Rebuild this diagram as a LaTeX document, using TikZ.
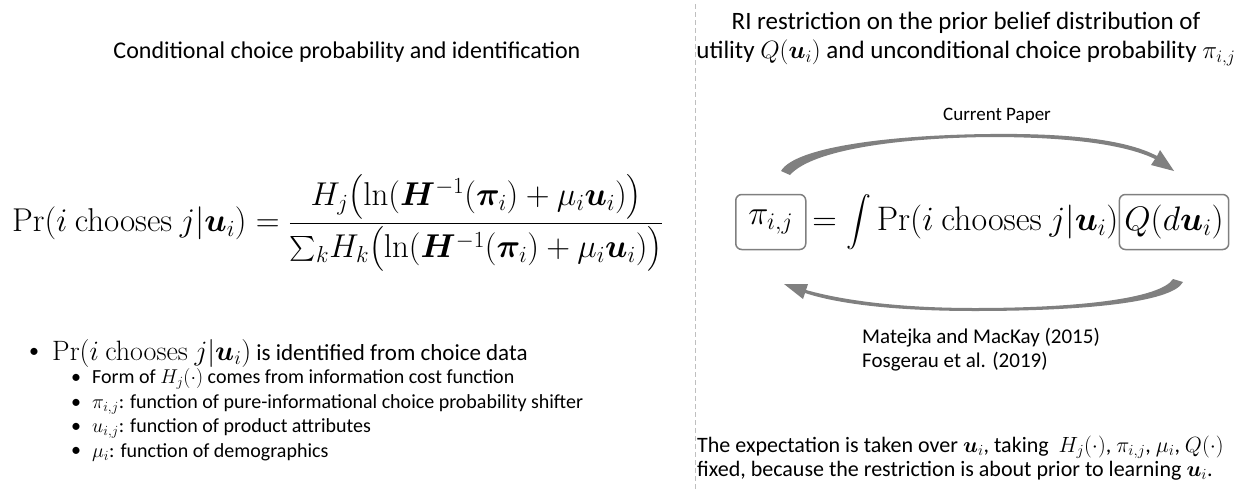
\RequirePackage{fix-cm}
\documentclass[tikz,border=0pt]{standalone}
\usepackage{amsmath}
\usepackage{bm}
\usepackage[no-math]{fontspec}
\setmainfont{Carlito}
\definecolor{arrgray}{HTML}{808080}
\definecolor{boxgray}{HTML}{7F7F7F}
\definecolor{divgray}{HTML}{BFBFBF}
\tikzset{
  txt/.style={font=\fontsize{19}{24}\selectfont, inner sep=0pt},
  subtxt/.style={font=\fontsize{20}{24}\selectfont, inner sep=0pt},
  ttl/.style={font=\fontsize{24}{29}\selectfont, align=center, inner sep=0pt},
  eqn/.style={font=\fontsize{33}{40}\selectfont, inner sep=0pt},
  reqn/.style={font=\fontsize{34}{40}\selectfont, inner sep=0pt},
  bx/.style={draw=boxgray, line width=1.5pt, rounded corners=6pt, inner xsep=5pt, minimum height=55pt},
  arr/.style={fill=arrgray, draw=none},
  divider/.style={draw=divgray, line width=0.8pt, dash pattern=on 5pt off 3pt}
}
\begin{document}
\begin{tikzpicture}[x=1pt,y=-1pt]
\useasboundingbox (0,0) rectangle (1251,493);
% divider
\coordinate (dtop) at (695,4);
\coordinate (dbot) at (695,490);
\draw[divider] (dtop) -- (dbot);
% left side
\node[ttl] (ltitle) at (347,52) {Conditional choice probability and identification};
\node[eqn, anchor=west] (leq) at (12,223)
 {$\Pr(i\ \mathrm{chooses}\ j|\bm{u}_i) = \dfrac{H_j\bigl(\ln(\bm{H}^{-1}(\bm{\pi}_i)+\mu_i\bm{u}_i)\bigr)}{{\textstyle\sum_k} H_k\bigl(\ln(\bm{H}^{-1}(\bm{\pi}_i)+\mu_i\bm{u}_i)\bigr)}$};
\node[subtxt] (d1) at (34,353) {•};
\node[txt, anchor=west, font=\fontsize{23}{26}\selectfont] (b1) at (52,353) {{\fontsize{28}{30}\selectfont$\Pr(i\ \mathrm{chooses}\ j|\bm{u}_i)$} is identified from choice data};
\node[subtxt] (d2) at (76,379) {•};
\node[subtxt, anchor=west] (b2) at (92,379) {Form of $H_j(\cdot)$ comes from information cost function};
\node[subtxt] (d3) at (76,404) {•};
\node[subtxt, anchor=west] (b3) at (92,404) {$\pi_{i,j}$: function of pure-informational choice probability shifter};
\node[subtxt] (d4) at (76,428) {•};
\node[subtxt, anchor=west] (b4) at (92,428) {$u_{i,j}$: function of product attributes};
\node[subtxt] (d5) at (76,452) {•};
\node[subtxt, anchor=west] (b5) at (92,452) {$\mu_i$: function of demographics};
% right side
\node[ttl, font=\fontsize{25}{29}\selectfont] (rtitle) at (966,39) {RI restriction on the prior belief distribution of\\utility $Q(\bm{u}_i)$ and unconditional choice probability $\pi_{i,j}$};
\node[txt] (cp) at (997,116) {Current Paper};
\node[reqn, bx, anchor=west, minimum width=70pt] (pi) at (735,222) {$\pi_{i,j}$};
\node[reqn, anchor=west] (mid) at (pi.east) {$\,=\displaystyle\int \Pr(i\ \mathrm{chooses}\ j|\bm{u}_i)$};
\node[reqn, bx, anchor=west] (Q) at (mid.east) {$Q(d\bm{u}_i)$};
% top curved arrow (Current Paper)
\fill[arr] (781,171) .. controls (795,147) and (890,135) .. (990,134)
  .. controls (1075,133) and (1129,141) .. (1157,156) -- (1160,150) -- (1174,171) -- (1151,165) -- (1155,159)
  .. controls (1126,145) and (1072,137) .. (990,137)
  .. controls (897,138) and (812,150) .. (790,175) -- cycle;
% bottom curved arrow
\fill[arr] (1183,282) .. controls (1172,303) and (1080,311) .. (975,311)
  .. controls (890,311) and (835,303) .. (805,293) -- (803,299) -- (784,284) -- (808,284) -- (806,290)
  .. controls (838,299) and (892,308) .. (975,308)
  .. controls (1075,308) and (1160,299) .. (1173,279) -- cycle;
\node[txt, align=left, anchor=north west, font=\fontsize{21}{24}\selectfont] (refs) at (862,328) {Matejka and MacKay (2015)\\Fosgerau et al. (2019)};
\node[txt, align=left, anchor=north west, font=\fontsize{22}{24}\selectfont] (note) at (697,436) {The expectation is taken over $\bm{u}_i$, taking \ $H_j(\cdot)$, $\pi_{i,j}$, $\mu_i$, $Q(\cdot)$\\fixed, because the restriction is about prior to learning $\bm{u}_i$.};
\end{tikzpicture}
\end{document}
